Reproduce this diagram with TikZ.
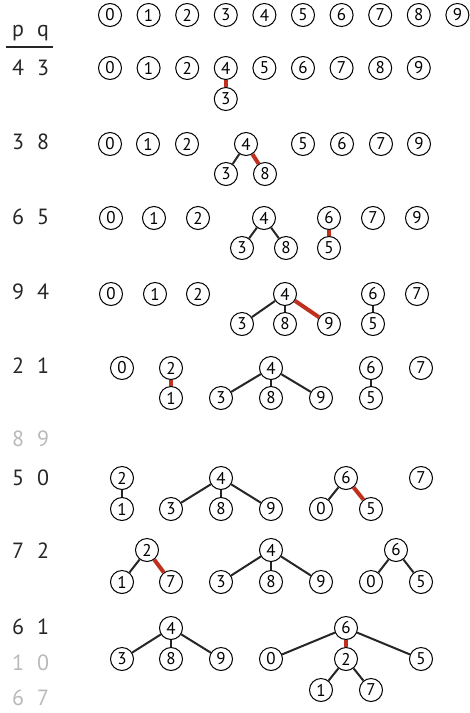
\documentclass[tikz,border=0pt]{standalone}
\usepackage{fontspec}
\setmainfont{PT Sans}
\definecolor{linkred}{RGB}{192,48,30}
\definecolor{faint}{RGB}{185,185,185}

\begin{document}
\begin{tikzpicture}[
    x=1pt,
    y=-1pt,
    site/.style={
      draw=black,
      line width=1pt,
      circle,
      fill=white,
      inner sep=0,
      minimum size=23pt,
      font=\fontsize{17}{17}\selectfont
    },
    pair/.style={font=\fontsize{22}{22}\selectfont, inner sep=0, text=black!85},
    old/.style={pair, text=faint},
    link/.style={line width=2pt, black!85},
    hit/.style={line width=4pt, linkred}]
   \useasboundingbox (0,0) rectangle (470,713);

   % input pairs
   \path
     node(ph) at (18, 33) [pair] {p}
     node(qh) at (43, 33) [pair] {q};
   \draw[line width=1.5pt, black!85] (6,47) -- (53,47);
   \foreach \p/\q/\y [count=\i] in {4/3/68, 3/8/142, 6/5/217, 9/4/292, 2/1/366,
                                     5/0/478, 7/2/551, 6/1/627}
     \path node(p\i) at (18,\y) [pair] {\p}
           node(q\i) at (43,\y) [pair] {\q};
   \foreach \p/\q/\y [count=\i] in {8/9/439, 1/0/663, 6/7/698}
     \path node(op\i) at (18,\y) [old] {\p}
           node(oq\i) at (43,\y) [old] {\q};

   % start: every site its own root
   \foreach \x in {0,...,9}
     \node[site] (a\x) at ({110+38.6*\x},15) {\x};

   % 4 3
   \foreach \x[count=\i from 0] in {0,1,2,4,5,6,7,8,9}
     \node[site] (b\x) at ({110+38.6*\i},68) {\x};
   \node[site] (b3) at (b4 |- 0,99) {3};
   \draw[hit] (b4) -- (b3);

   % 3 8
   \path
     node(c0) at (110,144) [site] {0}
     node(c1) at (148,144) [site] {1}
     node(c2) at (187,144) [site] {2}
     node(c4) at (246,144) [site] {4}
     node(c3) at (226,174) [site] {3}
     node(c8) at (265,174) [site] {8}
     node(c5) at (303,144) [site] {5}
     node(c6) at (342,144) [site] {6}
     node(c7) at (381,144) [site] {7}
     node(c9) at (419,144) [site] {9};
   \draw[link] (c4) -- (c3);
   \draw[hit] (c4) -- (c8);

   % 6 5
   \path
     node(d0) at (111,218) [site] {0}
     node(d1) at (154,218) [site] {1}
     node(d2) at (198,218) [site] {2}
     node(d4) at (264,218) [site] {4}
     node(d3) at (242,248) [site] {3}
     node(d8) at (286,248) [site] {8}
     node(d6) at (329,218) [site] {6}
     node(d5) at (329,248) [site] {5}
     node(d7) at (373,218) [site] {7}
     node(d9) at (417,218) [site] {9};
   \draw[link] (d4) -- (d3);
   \draw[link] (d4) -- (d8);
   \draw[hit] (d6) -- (d5);

   % 9 4
   \path
     node(e0) at (111,294) [site] {0}
     node(e1) at (155,294) [site] {1}
     node(e2) at (198,294) [site] {2}
     node(e4) at (285,294) [site] {4}
     node(e3) at (242,324) [site] {3}
     node(e8) at (285,324) [site] {8}
     node(e9) at (329,324) [site] {9}
     node(e6) at (373,294) [site] {6}
     node(e5) at (373,324) [site] {5}
     node(e7) at (417,294) [site] {7};
   \draw[link] (e4) -- (e3);
   \draw[link] (e4) -- (e8);
   \draw[hit] (e4) -- (e9);
   \draw[link] (e6) -- (e5);

   % 2 1
   \path
     node(f0) at (122,368) [site] {0}
     node(f2) at (171,368) [site] {2}
     node(f1) at (171,398) [site] {1}
     node(f4) at (271,368) [site] {4}
     node(f3) at (221,398) [site] {3}
     node(f8) at (271,398) [site] {8}
     node(f9) at (321,398) [site] {9}
     node(f6) at (371,368) [site] {6}
     node(f5) at (371,398) [site] {5}
     node(f7) at (421,368) [site] {7};
   \draw[hit] (f2) -- (f1);
   \draw[link] (f4) -- (f3);
   \draw[link] (f4) -- (f8);
   \draw[link] (f4) -- (f9);
   \draw[link] (f6) -- (f5);

   % 5 0
   \path
     node(g2) at (122,478) [site] {2}
     node(g1) at (122,509) [site] {1}
     node(g4) at (221,478) [site] {4}
     node(g3) at (171,509) [site] {3}
     node(g8) at (221,509) [site] {8}
     node(g9) at (271,509) [site] {9}
     node(g6) at (346,478) [site] {6}
     node(g0) at (321,509) [site] {0}
     node(g5) at (371,509) [site] {5}
     node(g7) at (421,478) [site] {7};
   \draw[link] (g2) -- (g1);
   \draw[link] (g4) -- (g3);
   \draw[link] (g4) -- (g8);
   \draw[link] (g4) -- (g9);
   \draw[link] (g6) -- (g0);
   \draw[hit] (g6) -- (g5);

   % 7 2
   \path
     node(h2) at (147,550) [site] {2}
     node(h1) at (122,582) [site] {1}
     node(h7) at (171,582) [site] {7}
     node(h4) at (271,550) [site] {4}
     node(h3) at (221,582) [site] {3}
     node(h8) at (271,582) [site] {8}
     node(h9) at (321,582) [site] {9}
     node(h6) at (396,550) [site] {6}
     node(h0) at (371,582) [site] {0}
     node(h5) at (421,582) [site] {5};
   \draw[link] (h2) -- (h1);
   \draw[hit] (h2) -- (h7);
   \draw[link] (h4) -- (h3);
   \draw[link] (h4) -- (h8);
   \draw[link] (h4) -- (h9);
   \draw[link] (h6) -- (h0);
   \draw[link] (h6) -- (h5);

   % 6 1
   \path
     node(i4) at (171,628) [site] {4}
     node(i3) at (122,659) [site] {3}
     node(i8) at (171,659) [site] {8}
     node(i9) at (221,659) [site] {9}
     node(i6) at (346,628) [site] {6}
     node(i0) at (271,659) [site] {0}
     node(i2) at (346,659) [site] {2}
     node(i5) at (421,659) [site] {5}
     node(i1) at (321,690) [site] {1}
     node(i7) at (371,690) [site] {7};
   \draw[link] (i4) -- (i3);
   \draw[link] (i4) -- (i8);
   \draw[link] (i4) -- (i9);
   \draw[link] (i6) -- (i0);
   \draw[hit] (i6) -- (i2);
   \draw[link] (i6) -- (i5);
   \draw[link] (i2) -- (i1);
   \draw[link] (i2) -- (i7);
  \end{tikzpicture}
\end{document}
